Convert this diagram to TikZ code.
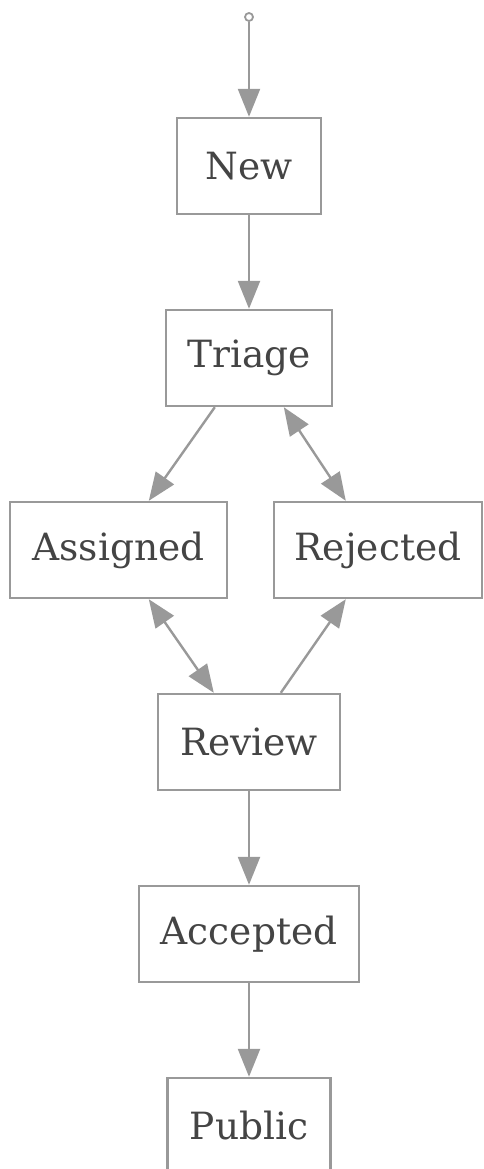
\documentclass[tikz,border=0pt]{standalone}
\usepackage{fontspec}
\setmainfont{DejaVu Serif}
\usetikzlibrary{arrows.meta}
\definecolor{edgegray}{HTML}{999999}
\definecolor{textgray}{HTML}{444444}
\begin{document}
\begin{tikzpicture}[x=1pt,y=-1pt,
  state/.style={draw=edgegray, line width=2.4pt, fill=white, minimum height=96pt,
    inner sep=0pt, text=textgray, font=\fontsize{37.5}{44}\selectfont},
  flow/.style={draw=edgegray, line width=2.4pt, -{Triangle[length=28pt,width=22pt]}},
  twoway/.style={draw=edgegray, line width=2.4pt,
    {Triangle[length=28pt,width=22pt]}-{Triangle[length=28pt,width=22pt]}}]
\useasboundingbox (0,0) rectangle (483,1169);

% initial marker
\node[circle, draw=edgegray, line width=1.8pt, fill=white, inner sep=0pt,
  minimum size=8pt] (start) at (249,17) {};

% states
\node[state, minimum width=144pt] (new)      at (249,166)   {New};
\node[state, minimum width=166pt] (triage)   at (249,358)   {Triage};
\node[state, minimum width=217pt] (assigned) at (118.5,550) {Assigned};
\node[state, minimum width=208pt] (rejected) at (378,550)   {Rejected};
\node[state, minimum width=182pt] (review)   at (249,742)   {Review};
\node[state, minimum width=220pt] (accepted) at (249,934)   {Accepted};
\node[state, minimum width=163pt] (public)   at (249,1126)  {Public};

% transitions
\draw[flow] (start) -- (new.north);
\draw[flow] (new) -- (triage);
\draw[flow] ([xshift=50pt]triage.south west) -- ([xshift=140pt]assigned.north west);
\draw[twoway] ([xshift=119pt]triage.south west) -- ([xshift=73pt]rejected.north west);
\draw[twoway] ([xshift=140pt]assigned.south west) -- ([xshift=57pt]review.north west);
\draw[flow] ([xshift=124pt]review.north west) -- ([xshift=73pt]rejected.south west);
\draw[flow] (review) -- (accepted);
\draw[flow] (accepted) -- (public);
\end{tikzpicture}
\end{document}
